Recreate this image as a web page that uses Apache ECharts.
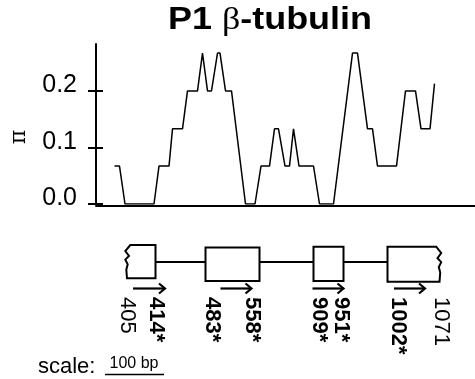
<!DOCTYPE html>
<html>
<head>
<meta charset="utf-8">
<script src="https://cdn.jsdelivr.net/npm/echarts@6/dist/echarts.min.js"></script>
<style>
  html, body { margin: 0; background: #fff; }
  #chart { width: 475px; height: 379px; }
</style>
</head>
<body>
<div id="chart"></div>
<script>
// sliding-window nucleotide diversity (window midpoint along the plot axis, pi)
const windowPos = [37, 47, 58, 116, 126, 146, 153, 173, 183, 203, 213, 223, 231, 243, 248, 259, 271,
  299, 318, 330, 347, 357, 365, 378, 387, 395, 406, 435, 447, 475, 513, 523, 543, 553, 563, 601,
  619, 639, 650, 668, 677];
const piValues = [0.067, 0.067, 0, 0, 0.067, 0.067, 0.133, 0.133, 0.2, 0.2, 0.267, 0.2, 0.2, 0.267,
  0.267, 0.2, 0.2, 0, 0, 0.067, 0.067, 0.133, 0.133, 0.067, 0.067, 0.133, 0.067, 0.067, 0, 0,
  0.267, 0.267, 0.133, 0.133, 0.067, 0.067, 0.2, 0.2, 0.133, 0.133, 0.213];
const yTicks = [0, 0.1, 0.2];

// gene model, schematic units along the same axis
const exonStart = [62, 219, 435, 583];
const exonEnd = [119, 327, 495, 687];
const exonTop = [15, 17.5, 16.7, 16.7];
const exonBottom = [48.3, 51, 51, 51.7];
const exonCut = ['left', '', '', 'right'];
const intronY = 32;
const arrowStart = [74, 249, 433, 596];
const arrowEnd = [138, 311, 495, 658];
const arrowY = 58.5;
const siteLabels = ['405', '414*', '483*', '558*', '909*', '951*', '1002*', '1071'];
const siteLabelX = [63, 120, 233, 312, 446, 490, 604, 690];
const siteBold = [false, true, true, true, true, true, true, false];
const labelTop = 67;

const FONT = '"Liberation Sans", Arial, Helvetica, sans-serif';
const chart = echarts.init(document.getElementById('chart'));

// wavy (cut) exon edge: [dx px, fraction of height]
const wave = [[3.3, 0], [-1.7, 0.18], [2, 0.33], [-1.7, 0.44], [0.7, 0.58], [-0.7, 0.74], [0, 1]];

function renderExon(params, api) {
  const a = api.coord([api.value(0), api.value(2)]);
  const b = api.coord([api.value(1), api.value(3)]);
  const cut = exonCut[params.dataIndex];
  const h = b[1] - a[1];
  const pts = [];
  pts.push([cut === 'left' ? a[0] + wave[0][0] : a[0], a[1]]);
  if (cut === 'right') {
    wave.forEach(w => pts.push([b[0] - w[0], a[1] + w[1] * h]));
  } else {
    pts.push([b[0], a[1]], [b[0], b[1]]);
  }
  if (cut === 'left') {
    wave.slice().reverse().forEach(w => pts.push([a[0] + w[0], a[1] + w[1] * h]));
  } else {
    pts.push([a[0], b[1]]);
  }
  return {
    type: 'polygon',
    shape: { points: pts },
    style: { fill: '#fff', stroke: '#000', lineWidth: 2 }
  };
}

function renderSegment(params, api) {
  const a = api.coord([api.value(0), api.value(2)]);
  const b = api.coord([api.value(1), api.value(2)]);
  return {
    type: 'line',
    shape: { x1: a[0], y1: a[1], x2: b[0], y2: b[1] },
    style: { stroke: '#000', lineWidth: 2 }
  };
}

function renderArrow(params, api) {
  const a = api.coord([api.value(0), api.value(2)]);
  const b = api.coord([api.value(1), api.value(2)]);
  return {
    type: 'group',
    children: [
      { type: 'line', shape: { x1: a[0], y1: a[1], x2: b[0] - 1, y2: b[1] },
        style: { stroke: '#000', lineWidth: 2.2 } },
      { type: 'polyline', shape: { points: [[b[0] - 6, b[1] - 5], [b[0], b[1]], [b[0] - 6, b[1] + 5]] },
        style: { stroke: '#000', lineWidth: 2.2, fill: null } }
    ]
  };
}

function renderLabel(params, api) {
  const i = api.value(2);
  const p = api.coord([api.value(0), api.value(1)]);
  return {
    type: 'text',
    x: p[0],
    y: p[1],
    rotation: -Math.PI / 2,
    style: {
      text: siteLabels[i],
      fontSize: 22,
      fontWeight: siteBold[i] ? 'bold' : 'normal',
      fontFamily: FONT,
      fill: '#000',
      align: 'left',
      verticalAlign: 'middle',
      textAlign: 'left',
      textVerticalAlign: 'middle'
    }
  };
}

chart.setOption({
  animation: false,
  backgroundColor: '#fff',
  grid: [
    { left: 96, top: 44, width: 379, height: 160 },
    { left: 96, top: 230, width: 379, height: 140 }
  ],
  xAxis: [
    {
      gridIndex: 0, type: 'value', min: 0, max: 758, offset: 2,
      axisLine: { show: true, onZero: false, lineStyle: { color: '#000', width: 2 } },
      axisTick: { show: false }, axisLabel: { show: false }, splitLine: { show: false }
    },
    { gridIndex: 1, type: 'value', min: 0, max: 758, show: false }
  ],
  yAxis: [
    {
      gridIndex: 0, type: 'value', min: 0, max: 0.283,
      axisLine: { show: true, lineStyle: { color: '#000', width: 2 } },
      axisTick: { show: true, length: 8, customValues: yTicks, lineStyle: { color: '#000', width: 2 } },
      axisLabel: {
        customValues: yTicks,
        formatter: v => v.toFixed(1),
        margin: 19, fontSize: 25, color: '#000', fontFamily: FONT,
        verticalAlign: 'bottom', lineHeight: 11
      },
      splitLine: { show: false }
    },
    {
      gridIndex: 0, type: 'value', min: 0, max: 0.283, position: 'left',
      axisLine: { show: false },
      axisTick: { show: true, inside: true, length: 7, customValues: yTicks, lineStyle: { color: '#000', width: 2 } },
      axisLabel: { show: false },
      splitLine: { show: false }
    },
    { gridIndex: 1, type: 'value', min: 0, max: 140, inverse: true, show: false }
  ],
  graphic: [
    {
      type: 'text', x: 270, y: 36, scaleX: 1.16,
      style: {
        text: '{b|P1 }{g|β}{b|-tubulin}',
        rich: {
          b: { fontSize: 31, fontWeight: 'bold', fontFamily: FONT, fill: '#000' },
          g: { fontSize: 31, fontFamily: '"Liberation Serif", "DejaVu Serif", serif', fill: '#000' }
        },
        align: 'center', verticalAlign: 'bottom', textAlign: 'center', textVerticalAlign: 'bottom'
      }
    },
    {
      type: 'text', x: 19, y: 137, rotation: Math.PI / 2,
      style: {
        text: 'π', fontSize: 22, fontFamily: '"DejaVu Serif", "Liberation Serif", serif', fill: '#000',
        align: 'center', verticalAlign: 'middle', textAlign: 'center', textVerticalAlign: 'middle'
      }
    },
    {
      type: 'text', x: 38, y: 378,
      style: { text: 'scale:', fontSize: 22, fontFamily: FONT, fill: '#000',
        align: 'left', verticalAlign: 'bottom', textAlign: 'left', textVerticalAlign: 'bottom' }
    },
    {
      type: 'text', x: 134, y: 372,
      style: { text: '100 bp', fontSize: 16, fontFamily: FONT, fill: '#000',
        align: 'center', verticalAlign: 'bottom', textAlign: 'center', textVerticalAlign: 'bottom' }
    },
    {
      type: 'line', shape: { x1: 105, y1: 374.5, x2: 164, y2: 374.5 },
      style: { stroke: '#000', lineWidth: 1.5 }
    }
  ],
  series: [
    {
      type: 'line',
      xAxisIndex: 0, yAxisIndex: 0,
      data: windowPos.map((x, i) => [x, piValues[i]]),
      showSymbol: false,
      lineStyle: { color: '#000', width: 1.5 },
      z: 3
    },
    {
      type: 'custom', xAxisIndex: 1, yAxisIndex: 2, clip: false, z: 2,
      data: exonEnd.slice(0, -1).map((e, i) => [e, exonStart[i + 1], intronY]),
      renderItem: renderSegment
    },
    {
      type: 'custom', xAxisIndex: 1, yAxisIndex: 2, clip: false, z: 3,
      data: exonStart.map((s, i) => [s, exonEnd[i], exonTop[i], exonBottom[i]]),
      renderItem: renderExon
    },
    {
      type: 'custom', xAxisIndex: 1, yAxisIndex: 2, clip: false, z: 3,
      data: arrowStart.map((s, i) => [s, arrowEnd[i], arrowY]),
      renderItem: renderArrow
    },
    {
      type: 'custom', xAxisIndex: 1, yAxisIndex: 2, clip: false, z: 3,
      data: siteLabelX.map((x, i) => [x, labelTop, i]),
      renderItem: renderLabel
    }
  ]
});
</script>
</body>
</html>
